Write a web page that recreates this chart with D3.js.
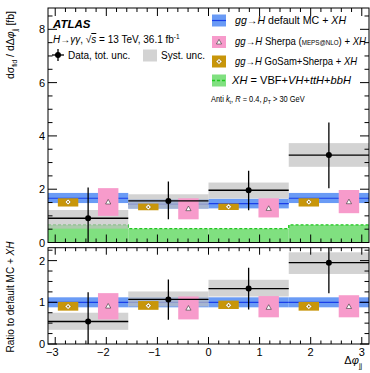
<!DOCTYPE html>
<html>
<head>
<meta charset="utf-8">
<script src="https://cdn.jsdelivr.net/npm/d3@7"></script>
<style>
body { margin: 0; background: #fff; }
svg { display: block; font-family: "Liberation Sans", Arial, sans-serif; }
</style>
</head>
<body>
<div id="chart"></div>
<script>
// bins in delta phi_jj
var binEdges = [-Math.PI, -Math.PI / 2, 0, Math.PI / 2, Math.PI];

// top panel: cross section [fb]
var dataVal = [0.91, 1.56, 1.96, 3.28];
var dataTotHi = [2.06, 2.29, 2.69, 4.50];
var dataTotLo = [-0.5, 0.87, 1.21, 2.04];
var dataSystHi = [1.22, 1.81, 2.25, 3.73];
var dataSystLo = [0.52, 1.27, 1.65, 2.84];

var defVal = [1.66, 1.44, 1.46, 1.66];
var defLo = [1.48, 1.27, 1.28, 1.48];
var defHi = [1.86, 1.62, 1.64, 1.86];

var sherpaVal = [1.52, 1.27, 1.28, 1.53];
var sherpaLo = [1.00, 0.87, 0.94, 1.10];
var sherpaHi = [2.04, 1.66, 1.66, 1.97];

var gosamVal = [1.52, 1.33, 1.34, 1.52];
var gosamLo = [1.35, 1.21, 1.22, 1.35];
var gosamHi = [1.66, 1.46, 1.46, 1.66];

var xhVal = [0.66, 0.52, 0.52, 0.66];

// ratio panel: ratio to default MC + XH
var rDataVal = [0.54, 1.07, 1.33, 1.95];
var rDataTotHi = [1.24, 1.55, 1.83, 2.60];
var rDataTotLo = [-0.2, 0.58, 0.83, 1.22];
var rDataSystHi = [0.75, 1.26, 1.54, 2.20];
var rDataSystLo = [0.34, 0.90, 1.14, 1.68];

var rDefLo = [0.88, 0.88, 0.88, 0.88];
var rDefHi = [1.12, 1.12, 1.12, 1.12];

var rSherpaVal = [0.91, 0.86, 0.88, 0.90];
var rSherpaLo = [0.59, 0.59, 0.64, 0.64];
var rSherpaHi = [1.22, 1.14, 1.15, 1.17];

var rGosamVal = [0.90, 0.92, 0.93, 0.90];
var rGosamLo = [0.80, 0.82, 0.84, 0.80];
var rGosamHi = [1.01, 1.03, 1.04, 1.01];

var xTicks = [-3, -2, -1, 0, 1, 2, 3];
var yTopTicks = [0, 2, 4, 6, 8];
var yBotTicks = [0, 1, 2];

var w = 370, h = 373;
var left = 48, right = 369;
var topY0 = 8, topY1 = 242.5;
var botY0 = 247.7, botY1 = 344;

var cBlue = "#6a9bf5", cBlueLine = "#1a3fe8";
var cPink = "#f79bcb", cGold = "#c8960a", cGreen = "#80e080", cGreenLine = "#1ec81e";
var cGray = "#c0c0c0";

var x = d3.scaleLinear().domain([-Math.PI, Math.PI]).range([left, right]);
var yTop = d3.scaleLinear().domain([0, 8.8]).range([topY1, topY0]);
var yBot = d3.scaleLinear().domain([0, 2.31]).range([botY1, botY0]);

var svg = d3.select("#chart").append("svg")
	.attr("width", w)
	.attr("height", h);

svg.append("clipPath").attr("id", "clipTop")
	.append("rect").attr("x", left).attr("y", topY0)
	.attr("width", right - left).attr("height", topY1 - topY0);
svg.append("clipPath").attr("id", "clipBot")
	.append("rect").attr("x", left).attr("y", botY0)
	.attr("width", right - left).attr("height", botY1 - botY0);

var bins = d3.range(4);
var off = Math.PI / 8, hw = 0.2;
function lo(i) { return binEdges[i]; }
function hi(i) { return binEdges[i + 1]; }
function mid(i) { return (binEdges[i] + binEdges[i + 1]) / 2; }

// triangle & diamond markers
function triangle(g, cx, cy) {
	g.append("path")
		.attr("d", "M" + cx + "," + (cy - 2.6) + "L" + (cx + 2.6) + "," + (cy + 2) + "L" + (cx - 2.6) + "," + (cy + 2) + "Z")
		.attr("fill", "#fff").attr("stroke", "#333").attr("stroke-width", 0.6);
}
function diamond(g, cx, cy) {
	g.append("path")
		.attr("d", "M" + cx + "," + (cy - 3) + "L" + (cx + 3) + "," + cy + "L" + cx + "," + (cy + 3) + "L" + (cx - 3) + "," + cy + "Z")
		.attr("fill", "#fff").attr("stroke", "#8a6400").attr("stroke-width", 0.5);
	g.append("circle").attr("cx", cx).attr("cy", cy).attr("r", 0.9).attr("fill", "#8a6400");
}

function drawPanel(y, clip, d) {
	var g = svg.append("g").attr("clip-path", "url(#" + clip + ")");

	if (d.xh) {
		g.selectAll(".xh").data(bins).enter().append("rect")
			.attr("x", i => x(lo(i))).attr("width", i => x(hi(i)) - x(lo(i)))
			.attr("y", i => y(d.xh[i])).attr("height", i => y(0) - y(d.xh[i]))
			.attr("fill", cGreen);
		g.append("path")
			.attr("d", d3.line().curve(d3.curveStepAfter)(bins.map(i => [x(lo(i)), y(d.xh[i])]).concat([[x(Math.PI), y(d.xh[3])]])))
			.attr("fill", "none").attr("stroke", cGreenLine).attr("stroke-width", 1.3)
			.attr("stroke-dasharray", "3,2");
	}

	// default MC band
	g.selectAll(".def").data(bins).enter().append("rect")
		.attr("x", i => x(lo(i))).attr("width", i => x(hi(i)) - x(lo(i)))
		.attr("y", i => y(d.defHi[i])).attr("height", i => y(d.defLo[i]) - y(d.defHi[i]))
		.attr("fill", cBlue);
	g.selectAll(".defl").data(bins).enter().append("line")
		.attr("x1", i => x(lo(i))).attr("x2", i => x(hi(i)))
		.attr("y1", i => y(d.defVal[i])).attr("y2", i => y(d.defVal[i]))
		.attr("stroke", cBlueLine).attr("stroke-width", 1.2);

	// data syst
	g.selectAll(".syst").data(bins).enter().append("rect")
		.attr("x", i => x(lo(i))).attr("width", i => x(hi(i)) - x(lo(i)))
		.attr("y", i => y(d.systHi[i])).attr("height", i => y(d.systLo[i]) - y(d.systHi[i]))
		.attr("fill", cGray).attr("opacity", 0.7);

	// GoSam
	g.selectAll(".gos").data(bins).enter().append("rect")
		.attr("x", i => x(mid(i) - off - hw)).attr("width", i => x(mid(i) - off + hw) - x(mid(i) - off - hw))
		.attr("y", i => y(d.gosHi[i])).attr("height", i => y(d.gosLo[i]) - y(d.gosHi[i]))
		.attr("fill", cGold);
	bins.forEach(i => diamond(g, x(mid(i) - off), y(d.gosVal[i])));

	// Sherpa
	g.selectAll(".she").data(bins).enter().append("rect")
		.attr("x", i => x(mid(i) + off - hw)).attr("width", i => x(mid(i) + off + hw) - x(mid(i) + off - hw))
		.attr("y", i => y(d.sheHi[i])).attr("height", i => y(d.sheLo[i]) - y(d.sheHi[i]))
		.attr("fill", cPink);
	bins.forEach(i => triangle(g, x(mid(i) + off), y(d.sheVal[i])));

	// data
	g.selectAll(".dh").data(bins).enter().append("line")
		.attr("x1", i => x(lo(i))).attr("x2", i => x(hi(i)))
		.attr("y1", i => y(d.val[i])).attr("y2", i => y(d.val[i]))
		.attr("stroke", "#000").attr("stroke-width", 1.3);
	g.selectAll(".dv").data(bins).enter().append("line")
		.attr("x1", i => x(mid(i))).attr("x2", i => x(mid(i)))
		.attr("y1", i => y(d.totHi[i])).attr("y2", i => y(d.totLo[i]))
		.attr("stroke", "#000").attr("stroke-width", 1.3);
	g.selectAll(".dp").data(bins).enter().append("circle")
		.attr("cx", i => x(mid(i))).attr("cy", i => y(d.val[i])).attr("r", 3)
		.attr("fill", "#000");
}

drawPanel(yTop, "clipTop", {
	xh: xhVal, defVal: defVal, defLo: defLo, defHi: defHi,
	systHi: dataSystHi, systLo: dataSystLo,
	gosVal: gosamVal, gosLo: gosamLo, gosHi: gosamHi,
	sheVal: sherpaVal, sheLo: sherpaLo, sheHi: sherpaHi,
	val: dataVal, totHi: dataTotHi, totLo: dataTotLo
});
drawPanel(yBot, "clipBot", {
	defVal: [1, 1, 1, 1], defLo: rDefLo, defHi: rDefHi,
	systHi: rDataSystHi, systLo: rDataSystLo,
	gosVal: rGosamVal, gosLo: rGosamLo, gosHi: rGosamHi,
	sheVal: rSherpaVal, sheLo: rSherpaLo, sheHi: rSherpaHi,
	val: rDataVal, totHi: rDataTotHi, totLo: rDataTotLo
});

// axes: ticks inside on all four sides
function frame(y, y0, y1, yMajor, yMinorStep, labelsX, majX) {
	var xMinor = d3.range(-3.2, 3.21, 0.2).filter(v => Math.abs(v - Math.round(v)) > 0.01 && v >= -Math.PI && v <= Math.PI);
	var ymax = y.domain()[1];
	var yMinor = d3.range(0, ymax, yMinorStep).filter(v => yMajor.indexOf(Math.round(v * 100) / 100) < 0);
	var g = svg.append("g").attr("stroke", "#000").attr("stroke-width", 1);
	xTicks.forEach(v => {
		g.append("line").attr("x1", x(v)).attr("x2", x(v)).attr("y1", y1).attr("y2", y1 - majX);
		g.append("line").attr("x1", x(v)).attr("x2", x(v)).attr("y1", y0).attr("y2", y0 + majX);
	});
	xMinor.forEach(v => {
		g.append("line").attr("x1", x(v)).attr("x2", x(v)).attr("y1", y1).attr("y2", y1 - majX / 2);
		g.append("line").attr("x1", x(v)).attr("x2", x(v)).attr("y1", y0).attr("y2", y0 + majX / 2);
	});
	yMajor.forEach(v => {
		g.append("line").attr("x1", left).attr("x2", left + 9).attr("y1", y(v)).attr("y2", y(v));
		g.append("line").attr("x1", right).attr("x2", right - 9).attr("y1", y(v)).attr("y2", y(v));
	});
	yMinor.forEach(v => {
		g.append("line").attr("x1", left).attr("x2", left + 4.5).attr("y1", y(v)).attr("y2", y(v));
		g.append("line").attr("x1", right).attr("x2", right - 4.5).attr("y1", y(v)).attr("y2", y(v));
	});
	svg.append("rect").attr("x", left).attr("y", y0).attr("width", right - left).attr("height", y1 - y0)
		.attr("fill", "none").attr("stroke", "#000").attr("stroke-width", 1);
	svg.append("g").selectAll("text").data(yMajor).enter().append("text")
		.attr("x", left - 3).attr("y", v => y(v) + 4).attr("text-anchor", "end")
		.attr("font-size", 11).text(v => v);
	if (labelsX) {
		svg.append("g").selectAll("text").data(xTicks).enter().append("text")
			.attr("x", v => x(v)).attr("y", y1 + 11.5).attr("text-anchor", "middle")
			.attr("font-size", 11).text(v => v < 0 ? "\u2212" + (-v) : v)
			.attr("dx", v => v < 0 ? -3 : 0);
	}
}
frame(yTop, topY0, topY1, yTopTicks, 0.5, false, 8);
frame(yBot, botY0, botY1, yBotTicks, 0.25, true, 7);

function fitWidth(t, x0, target) {
	var bw = t.node().getBBox().width;
	if (bw > 0) t.attr("transform", "translate(" + x0 + ",0) scale(" + (target / bw) + ",1) translate(" + (-x0) + ",0)");
}

// axis titles
var yt = svg.append("text").attr("transform", "translate(14,11) rotate(-90)")
	.attr("text-anchor", "end").attr("font-size", 10.5);
yt.append("tspan").text("d\u03c3");
yt.append("tspan").attr("font-size", 6.5).attr("dy", 3).text("fid");
yt.append("tspan").attr("dy", -3).text(" / d\u0394");
yt.append("tspan").attr("font-style", "italic").text("\u03c6");
yt.append("tspan").attr("font-size", 6.5).attr("dy", 3).text("jj");
yt.append("tspan").attr("dy", -3).text("  [fb]");

var rt = svg.append("text").attr("transform", "translate(14,297) rotate(-90)")
	.attr("text-anchor", "middle").attr("font-size", 10);
rt.append("tspan").text("Ratio to default MC + ");
rt.append("tspan").attr("font-style", "italic").text("XH");

var xt = svg.append("text").attr("x", 362).attr("y", 364).attr("text-anchor", "end").attr("font-size", 11);
xt.append("tspan").text("\u0394");
xt.append("tspan").attr("font-style", "italic").text("\u03c6");
xt.append("tspan").attr("font-size", 7).attr("dy", 4).text("jj");

// left legend
svg.append("text").attr("x", 53).attr("y", 28).attr("font-size", 11.5)
	.attr("font-weight", "bold").attr("font-style", "italic").text("ATLAS");
var l2 = svg.append("text").attr("x", 53).attr("y", 43).attr("font-size", 10);
l2.append("tspan").attr("font-style", "italic").text("H");
l2.append("tspan").text("\u2192");
l2.append("tspan").attr("font-style", "italic").text("\u03b3\u03b3");
l2.append("tspan").text(", \u221a");
l2.append("tspan").attr("font-style", "italic").attr("text-decoration", "overline").text("s");
l2.append("tspan").text(" = 13 TeV,  36.1 fb");
l2.append("tspan").attr("font-size", 6.5).attr("dy", -4).text("-1");

svg.append("line").attr("x1", 52).attr("x2", 64).attr("y1", 55).attr("y2", 55).attr("stroke", "#000").attr("stroke-width", 1.3);
svg.append("line").attr("x1", 58).attr("x2", 58).attr("y1", 49).attr("y2", 61).attr("stroke", "#000").attr("stroke-width", 1.3);
svg.append("circle").attr("cx", 58).attr("cy", 55).attr("r", 3).attr("fill", "#000");
svg.append("text").attr("x", 68).attr("y", 58.5).attr("font-size", 10).text("Data, tot. unc.");
svg.append("rect").attr("x", 143).attr("y", 49.5).attr("width", 14).attr("height", 12).attr("fill", cGray).attr("opacity", 0.7);
svg.append("text").attr("x", 161).attr("y", 58.5).attr("font-size", 10).text("Syst. unc.");

// right legend
var lx = 212, rows = [20.5, 42, 61.5, 80.5];
svg.append("rect").attr("x", lx).attr("y", rows[0] - 6).attr("width", 14).attr("height", 12).attr("fill", cBlue);
svg.append("line").attr("x1", lx).attr("x2", lx + 14).attr("y1", rows[0]).attr("y2", rows[0]).attr("stroke", cBlueLine).attr("stroke-width", 1.2);
svg.append("rect").attr("x", lx).attr("y", rows[1] - 6).attr("width", 14).attr("height", 12).attr("fill", cPink);
triangle(svg, lx + 7, rows[1]);
svg.append("rect").attr("x", lx).attr("y", rows[2] - 6).attr("width", 14).attr("height", 12).attr("fill", cGold);
diamond(svg, lx + 7, rows[2]);
svg.append("rect").attr("x", lx).attr("y", rows[3] - 6).attr("width", 14).attr("height", 12).attr("fill", cGreen);
svg.append("line").attr("x1", lx).attr("x2", lx + 14).attr("y1", rows[3]).attr("y2", rows[3])
	.attr("stroke", cGreenLine).attr("stroke-width", 1.3).attr("stroke-dasharray", "3,2");

function legText(y) {
	return svg.append("text").attr("x", 235).attr("y", y + 3.5).attr("font-size", 10);
}
var t1 = legText(rows[0]);
t1.append("tspan").attr("font-style", "italic").text("gg");
t1.append("tspan").text("\u2192");
t1.append("tspan").attr("font-style", "italic").text("H");
t1.append("tspan").text(" default MC + ");
t1.append("tspan").attr("font-style", "italic").text("XH");
fitWidth(t1, 235, 112);

var t2 = legText(rows[1]);
t2.append("tspan").attr("font-style", "italic").text("gg");
t2.append("tspan").text("\u2192");
t2.append("tspan").attr("font-style", "italic").text("H");
t2.append("tspan").text(" Sherpa (");
t2.append("tspan").attr("font-size", 6.5).text("MEPS@NLO");
t2.append("tspan").text(") + ");
t2.append("tspan").attr("font-style", "italic").text("XH");
fitWidth(t2, 235, 132);

var t3 = legText(rows[2]);
t3.append("tspan").attr("font-style", "italic").text("gg");
t3.append("tspan").text("\u2192");
t3.append("tspan").attr("font-style", "italic").text("H");
t3.append("tspan").text(" GoSam+Sherpa + ");
t3.append("tspan").attr("font-style", "italic").text("XH");
fitWidth(t3, 235, 123);

var t4 = svg.append("text").attr("x", 232).attr("y", rows[3] + 3.5).attr("font-size", 10);
t4.append("tspan").attr("font-style", "italic").text("XH");
t4.append("tspan").text(" = VBF+");
t4.append("tspan").attr("font-style", "italic").text("VH");
t4.append("tspan").text("+");
t4.append("tspan").attr("font-style", "italic").text("ttH");
t4.append("tspan").text("+");
t4.append("tspan").attr("font-style", "italic").text("bbH");
fitWidth(t4, 232, 121);

var t5 = svg.append("text").attr("x", 211).attr("y", 102).attr("font-size", 8.5);
t5.append("tspan").text("Anti ");
t5.append("tspan").attr("font-style", "italic").text("k");
t5.append("tspan").attr("font-size", 6).attr("dy", 2.5).text("t");
t5.append("tspan").attr("dy", -2.5).text(", ");
t5.append("tspan").attr("font-style", "italic").text("R");
t5.append("tspan").text(" = 0.4, ");
t5.append("tspan").attr("font-style", "italic").text("p");
t5.append("tspan").attr("font-size", 6).attr("dy", 2.5).text("T");
t5.append("tspan").attr("dy", -2.5).text(" > 30 GeV");
fitWidth(t5, 211, 94);
</script>
</body>
</html>
